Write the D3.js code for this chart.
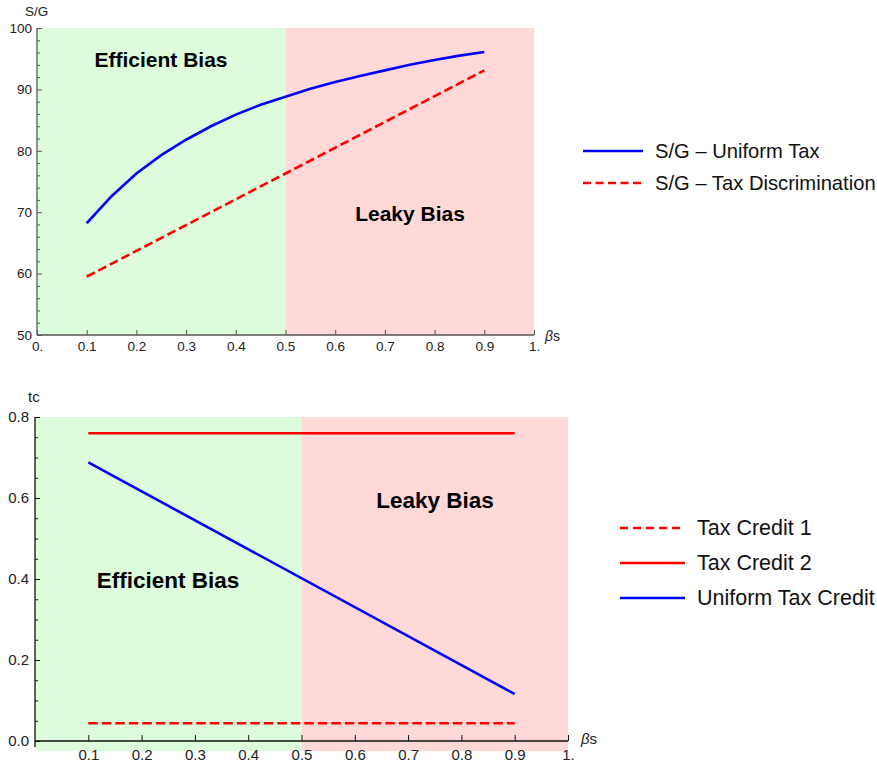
<!DOCTYPE html>
<html>
<head>
<meta charset="utf-8">
<script src="https://cdn.jsdelivr.net/npm/d3@7"></script>
<style>
  html, body { margin: 0; padding: 0; background: #fff; }
  svg { display: block; font-family: "Liberation Sans", Arial, sans-serif; }
</style>
</head>
<body>
<svg id="chart" width="877" height="767"></svg>
<script>
// ---------- data ----------
const betaTop = [0.1,0.15,0.2,0.25,0.3,0.35,0.4,0.45,0.5,0.55,0.6,0.65,0.7,0.75,0.8,0.85,0.9];
const sgUniform = [68.2,72.6,76.3,79.3,81.8,84.0,85.9,87.5,88.8,90.1,91.2,92.2,93.1,94.0,94.8,95.5,96.1];
const betaDisc = [0.1,0.2,0.3,0.4,0.5,0.6,0.7,0.8,0.9];
const sgDiscrimination = [59.5,63.7,67.9,72.1,76.3,80.5,84.7,88.9,93.1];

const betaBottom = [0.1,0.9];
const taxCredit1 = [0.044,0.044];
const taxCredit2 = [0.76,0.76];
const uniformTaxCredit = [0.688,0.116];

const topXTicks = [0,0.1,0.2,0.3,0.4,0.5,0.6,0.7,0.8,0.9,1];
const topYTicks = [50,60,70,80,90,100];
const botXTicks = [0.1,0.2,0.3,0.4,0.5,0.6,0.7,0.8,0.9,1];
const botYTicks = [0,0.2,0.4,0.6,0.8];

const topLegend = ["S/G \u2013 Uniform Tax","S/G \u2013 Tax Discrimination"];
const botLegend = ["Tax Credit 1","Tax Credit 2","Uniform Tax Credit"];

const GREEN = "#dcfcdc", PINK = "#ffd8d8", BLUE = "#0000ff", RED = "#ff0000";

const svg = d3.select("#chart");

function fmtX(d){ return d===0 ? "0." : d===1 ? "1." : d3.format(".1f")(d); }

// ---------- top chart ----------
{
  const x = d3.scaleLinear().domain([0,1]).range([37,534]);
  const y = d3.scaleLinear().domain([50,100]).range([335,28]);
  const g = svg.append("g");
  g.append("rect").attr("x",x(0)).attr("y",y(100)).attr("width",x(0.5)-x(0)).attr("height",y(50)-y(100)).attr("fill",GREEN);
  g.append("rect").attr("x",x(0.5)).attr("y",y(100)).attr("width",x(1)-x(0.5)).attr("height",y(50)-y(100)).attr("fill",PINK);

  const axCol = "#555";
  const minorY = d3.range(50,100.01,2).filter(v => v%10!==0);
  g.append("g").attr("transform",`translate(${x(0)},0)`)
    .call(d3.axisLeft(y).tickValues(minorY).tickSize(-3).tickSizeOuter(0).tickFormat(""))
    .call(s=>{s.select(".domain").remove(); s.selectAll("line").attr("stroke",axCol);});
  g.append("g").attr("transform",`translate(${x(0)},0)`)
    .call(d3.axisLeft(y).tickValues(topYTicks).tickSize(-5).tickSizeOuter(0).tickPadding(5).tickFormat(d3.format("d")))
    .call(s=>{s.select(".domain").remove(); s.selectAll("line").attr("stroke",axCol);
      s.selectAll("text").attr("font-size",13.5).attr("fill","#222").attr("font-family","Liberation Sans, Arial, sans-serif");});
  g.append("g").attr("transform",`translate(0,${y(50)})`)
    .call(d3.axisBottom(x).tickValues(topXTicks).tickSize(-5).tickSizeOuter(0).tickPadding(6).tickFormat(fmtX))
    .call(s=>{s.select(".domain").remove(); s.selectAll("line").attr("stroke",axCol);
      s.selectAll("text").attr("font-size",13.5).attr("fill","#222").attr("font-family","Liberation Sans, Arial, sans-serif");});
  g.append("line").attr("x1",x(0)).attr("x2",x(0)).attr("y1",y(100)).attr("y2",y(50)).attr("stroke",axCol).attr("stroke-width",1.3);
  g.append("line").attr("x1",x(0)).attr("x2",x(1)).attr("y1",y(50)).attr("y2",y(50)).attr("stroke",axCol).attr("stroke-width",1.3);

  const line = d3.line().x(d=>x(d[0])).y(d=>y(d[1]));
  g.append("path").datum(betaTop.map((b,i)=>[b,sgUniform[i]])).attr("d",line)
    .attr("fill","none").attr("stroke",BLUE).attr("stroke-width",2.6);
  g.append("path").datum(betaDisc.map((b,i)=>[b,sgDiscrimination[i]])).attr("d",line)
    .attr("fill","none").attr("stroke",RED).attr("stroke-width",2.6).attr("stroke-dasharray","9,4");

  g.append("text").attr("x",25).attr("y",15.5).attr("font-size",13.5).attr("fill","#222").text("S/G");
  const bl = g.append("text").attr("x",545).attr("y",341).attr("font-size",14).attr("fill","#222");
  bl.append("tspan").attr("font-style","italic").text("\u03b2");
  bl.append("tspan").text("s");

  g.append("text").attr("x",161).attr("y",67).attr("text-anchor","middle").attr("font-size",21).attr("font-weight","bold").text("Efficient Bias");
  g.append("text").attr("x",410).attr("y",221).attr("text-anchor","middle").attr("font-size",21).attr("font-weight","bold").text("Leaky Bias");

  const ly = [151,183];
  const lg = svg.append("g");
  topLegend.forEach((t,i)=>{
    lg.append("line").attr("x1",583).attr("x2",643).attr("y1",ly[i]).attr("y2",ly[i])
      .attr("stroke",i===0?BLUE:RED).attr("stroke-width",2.4).attr("stroke-dasharray",i===0?null:"8,4.5");
    lg.append("text").attr("x",655).attr("y",ly[i]+6.5).attr("font-size",20.2).attr("fill","#111").text(t);
  });
}

// ---------- bottom chart ----------
{
  const x = d3.scaleLinear().domain([0,1]).range([35,568]);
  const y = d3.scaleLinear().domain([0,0.8]).range([741,417]);
  const g = svg.append("g");
  const yLow = -0.025;
  g.append("rect").attr("x",x(0)).attr("y",y(0.8)).attr("width",x(0.5)-x(0)).attr("height",y(yLow)-y(0.8)).attr("fill",GREEN);
  g.append("rect").attr("x",x(0.5)).attr("y",y(0.8)).attr("width",x(1)-x(0.5)).attr("height",y(yLow)-y(0.8)).attr("fill",PINK);

  const axCol = "#111";
  const minorY = d3.range(0.05,0.8,0.05).filter(v => Math.abs(v/0.2 - Math.round(v/0.2))>1e-6);
  g.append("g").attr("transform",`translate(${x(0)},0)`)
    .call(d3.axisLeft(y).tickValues(minorY).tickSize(-3).tickSizeOuter(0).tickFormat(""))
    .call(s=>{s.select(".domain").remove(); s.selectAll("line").attr("stroke",axCol);});
  g.append("g").attr("transform",`translate(${x(0)},0)`)
    .call(d3.axisLeft(y).tickValues(botYTicks).tickSize(-5).tickSizeOuter(0).tickPadding(6).tickFormat(d3.format(".1f")))
    .call(s=>{s.select(".domain").remove(); s.selectAll("line").attr("stroke",axCol);
      s.selectAll("text").attr("font-size",15).attr("fill","#222").attr("font-family","Liberation Sans, Arial, sans-serif");});
  g.append("g").attr("transform",`translate(0,${y(0)})`)
    .call(d3.axisBottom(x).tickValues(botXTicks).tickSize(-6).tickSizeOuter(0).tickPadding(8).tickFormat(fmtX))
    .call(s=>{s.select(".domain").remove(); s.selectAll("line").attr("stroke",axCol);
      s.selectAll("text").attr("font-size",15).attr("fill","#222").attr("font-family","Liberation Sans, Arial, sans-serif");});
  g.append("line").attr("x1",x(0)).attr("x2",x(0)).attr("y1",y(0.8)).attr("y2",y(-0.015)).attr("stroke",axCol).attr("stroke-width",1.3);
  g.append("line").attr("x1",x(0)).attr("x2",x(1)).attr("y1",y(0)).attr("y2",y(0)).attr("stroke",axCol).attr("stroke-width",1.3);

  const line = d3.line().x(d=>x(d[0])).y(d=>y(d[1]));
  g.append("path").datum(betaBottom.map((b,i)=>[b,taxCredit1[i]])).attr("d",line)
    .attr("fill","none").attr("stroke",RED).attr("stroke-width",2.6).attr("stroke-dasharray","9.5,4");
  g.append("path").datum(betaBottom.map((b,i)=>[b,taxCredit2[i]])).attr("d",line)
    .attr("fill","none").attr("stroke",RED).attr("stroke-width",2.6);
  g.append("path").datum(betaBottom.map((b,i)=>[b,uniformTaxCredit[i]])).attr("d",line)
    .attr("fill","none").attr("stroke",BLUE).attr("stroke-width",2.6);

  g.append("text").attr("x",28).attr("y",402).attr("font-size",15).attr("fill","#222").text("tc");
  const bl = g.append("text").attr("x",581).attr("y",744).attr("font-size",15).attr("fill","#222");
  bl.append("tspan").attr("font-style","italic").text("\u03b2");
  bl.append("tspan").text("s");

  g.append("text").attr("x",168).attr("y",588).attr("text-anchor","middle").attr("font-size",22.5).attr("font-weight","bold").text("Efficient Bias");
  g.append("text").attr("x",435).attr("y",508).attr("text-anchor","middle").attr("font-size",22.5).attr("font-weight","bold").text("Leaky Bias");

  const ly = [528,563,598];
  const cols = [RED,RED,BLUE];
  const dashes = ["8,5",null,null];
  const lg = svg.append("g");
  botLegend.forEach((t,i)=>{
    lg.append("line").attr("x1",620).attr("x2",685).attr("y1",ly[i]).attr("y2",ly[i])
      .attr("stroke",cols[i]).attr("stroke-width",2.4).attr("stroke-dasharray",dashes[i]);
    lg.append("text").attr("x",697).attr("y",ly[i]+7).attr("font-size",21.5).attr("fill","#111").text(t);
  });
}
</script>
</body>
</html>
